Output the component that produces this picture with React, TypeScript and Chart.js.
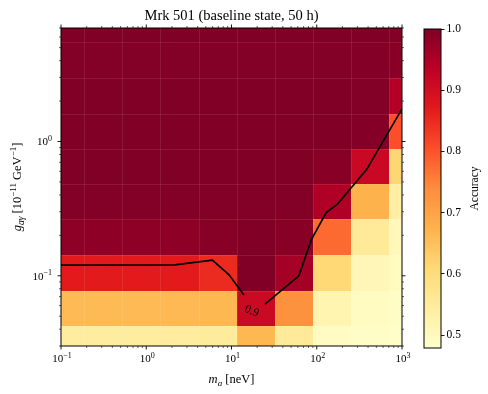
import React, { useEffect, useRef } from "react";
import { Chart, registerables } from "chart.js";

Chart.register(...registerables);

// ---------- data ----------
// mass bin edges (neV), 10 columns
const massEdges = [0.0667, 0.187, 0.524, 1.466, 4.11, 11.5, 32.3, 90.4, 253, 710, 1986];
// coupling bin edges (1e-11 GeV^-1), 10 rows
const couplingEdges = [0.0232, 0.0426, 0.0773, 0.143, 0.264, 0.48, 0.873, 1.607, 2.97, 5.46, 10.0];

// accuracy per row (bottom -> top), per mass column (left -> right)
const accRow0 = [0.545, 0.545, 0.545, 0.547, 0.55, 0.665, 0.555, 0.493, 0.487, 0.485];
const accRow1 = [0.66, 0.66, 0.66, 0.662, 0.665, 0.912, 0.73, 0.52, 0.495, 0.488];
const accRow2 = [0.87, 0.87, 0.87, 0.87, 0.85, 1.0, 0.96, 0.61, 0.51, 0.495];
const accRow3 = [0.985, 0.985, 0.985, 0.985, 0.993, 1.0, 0.99, 0.776, 0.555, 0.505];
const accRow4 = [0.997, 0.997, 0.997, 0.997, 0.997, 0.997, 0.997, 0.948, 0.675, 0.54];
const accRow5 = [1.0, 1.0, 1.0, 1.0, 1.0, 1.0, 1.0, 0.99, 0.914, 0.612];
const accRow6 = [1.0, 1.0, 1.0, 1.0, 1.0, 1.0, 1.0, 1.0, 0.995, 0.805];
const accRow7 = [1.0, 1.0, 1.0, 1.0, 1.0, 1.0, 1.0, 1.0, 0.997, 0.945];
const accRow8 = [0.997, 0.997, 0.997, 0.997, 0.997, 0.997, 0.997, 0.997, 0.995, 0.99];
const accRow9 = [1.0, 1.0, 1.0, 1.0, 1.0, 1.0, 1.0, 1.0, 1.0, 0.997];
const accuracyRows = [accRow0, accRow1, accRow2, accRow3, accRow4, accRow5, accRow6, accRow7, accRow8, accRow9];

// 0.9 contour (two pieces, split by the label)
const contourAMass = [0.1, 2.16, 5.97, 9.35, 14.0];
const contourACoupling = [0.1201, 0.1207, 0.1308, 0.1017, 0.0719];
const contourBMass = [24.7, 61.7, 86.9, 129, 174, 386, 1000];
const contourBCoupling = [0.0616, 0.1, 0.187, 0.296, 0.34, 0.62, 1.75];
const contourLevel = "0.9";
const contourLabelMass = 16.8;
const contourLabelCoupling = 0.0556;

// axes
const massMin = 0.1;
const massMax = 1000;
const couplingMin = 0.03;
const couplingMax = 7;
const xMajorTicks = [0.1, 1, 10, 100, 1000];
const yMajorTicks = [0.1, 1];
const cbMin = 0.479;
const cbMax = 1.0;
const cbTicks = [0.5, 0.6, 0.7, 0.8, 0.9, 1.0];

const titleText = "Mrk 501 (baseline state, 50 h)";
const cbLabel = "Accuracy";

// ---------- helpers ----------
const SERIF = '"Liberation Serif", "DejaVu Serif", serif';
const YLORRD = ["#ffffcc", "#ffeda0", "#fed976", "#feb24c", "#fd8d3c", "#fc4e2a", "#e31a1c", "#bd0026", "#800026"];

function hexToRgb(h: string) {
  return [parseInt(h.slice(1, 3), 16), parseInt(h.slice(3, 5), 16), parseInt(h.slice(5, 7), 16)];
}
const STOPS = YLORRD.map(hexToRgb);

function cmap(v: number) {
  let t = (v - cbMin) / (cbMax - cbMin);
  t = Math.max(0, Math.min(1, t));
  const p = t * (STOPS.length - 1);
  const i = Math.min(STOPS.length - 2, Math.floor(p));
  const f = p - i;
  const a = STOPS[i];
  const b = STOPS[i + 1];
  const c = a.map((x, k) => Math.round(x + (b[k] - x) * f));
  return `rgb(${c[0]},${c[1]},${c[2]})`;
}

type Part = { t: string; size: number; italic?: boolean; dy?: number };

function fontOf(p: Part) {
  return `${p.italic ? "italic " : ""}${p.size}px ${SERIF}`;
}

function drawRich(ctx: CanvasRenderingContext2D, parts: Part[], x: number, y: number, align: "left" | "center" | "right", rot = 0) {
  ctx.save();
  ctx.translate(x, y);
  if (rot) ctx.rotate(rot);
  ctx.textBaseline = "alphabetic";
  ctx.textAlign = "left";
  let total = 0;
  const widths = parts.map((p) => {
    ctx.font = fontOf(p);
    const w = ctx.measureText(p.t).width;
    total += w;
    return w;
  });
  let cx = align === "left" ? 0 : align === "center" ? -total / 2 : -total;
  parts.forEach((p, i) => {
    ctx.font = fontOf(p);
    ctx.fillStyle = "#000";
    ctx.fillText(p.t, cx, p.dy || 0);
    cx += widths[i];
  });
  ctx.restore();
}

function expLabel(v: number): Part[] {
  const e = Math.round(Math.log10(v));
  const s = e < 0 ? "\u2212" + Math.abs(e) : String(e);
  return [
    { t: "10", size: 11 },
    { t: s, size: 8, dy: -4.5 },
  ];
}

function minorValues(min: number, max: number) {
  const out: number[] = [];
  const e0 = Math.floor(Math.log10(min)) - 1;
  const e1 = Math.ceil(Math.log10(max)) + 1;
  for (let e = e0; e <= e1; e++) {
    for (let m = 1; m <= 9; m++) {
      const v = m * Math.pow(10, e);
      if (v >= min * 0.9999 && v <= max * 1.0001) out.push(v);
    }
  }
  return out;
}

const isPow10 = (v: number) => Math.abs(Math.log10(v) - Math.round(Math.log10(v))) < 1e-6;

// ---------- main chart plugin ----------
const heatmapPlugin = {
  id: "heatmap",
  beforeDatasetsDraw(chart: any) {
    const { ctx, chartArea: ca, scales } = chart;
    const xs = scales.x;
    const ys = scales.y;
    ctx.save();
    ctx.beginPath();
    ctx.rect(ca.left, ca.top, ca.right - ca.left, ca.bottom - ca.top);
    ctx.clip();
    for (let r = 0; r < accuracyRows.length; r++) {
      const yTop = Math.round(ys.getPixelForValue(couplingEdges[r + 1]));
      const yBot = Math.round(ys.getPixelForValue(couplingEdges[r]));
      for (let c = 0; c < accuracyRows[r].length; c++) {
        const x0 = Math.round(xs.getPixelForValue(massEdges[c]));
        const x1 = Math.round(xs.getPixelForValue(massEdges[c + 1]));
        ctx.fillStyle = cmap(accuracyRows[r][c]);
        ctx.fillRect(x0, yTop, x1 - x0, yBot - yTop);
      }
    }
    // faint cell edges
    ctx.strokeStyle = "rgba(255,255,255,0.09)";
    ctx.lineWidth = 1;
    ctx.beginPath();
    massEdges.forEach((m) => {
      const px = Math.round(xs.getPixelForValue(m)) + 0.5;
      ctx.moveTo(px, ca.top);
      ctx.lineTo(px, ca.bottom);
    });
    couplingEdges.forEach((g) => {
      const py = Math.round(ys.getPixelForValue(g)) + 0.5;
      ctx.moveTo(ca.left, py);
      ctx.lineTo(ca.right, py);
    });
    ctx.stroke();
    ctx.restore();
  },
  afterDraw(chart: any) {
    const { ctx, chartArea: ca, scales } = chart;
    const xs = scales.x;
    const ys = scales.y;
    ctx.save();
    // frame
    ctx.strokeStyle = "#000";
    ctx.lineWidth = 1;
    ctx.strokeRect(ca.left, ca.top, ca.right - ca.left, ca.bottom - ca.top);

    // ticks on all four sides (outward)
    const xv = minorValues(massMin, massMax);
    xv.forEach((v) => {
      const px = xs.getPixelForValue(v);
      const major = isPow10(v);
      const len = major ? 3.5 : 2;
      ctx.lineWidth = major ? 0.9 : 0.6;
      ctx.beginPath();
      ctx.moveTo(px, ca.bottom);
      ctx.lineTo(px, ca.bottom + len);
      ctx.moveTo(px, ca.top);
      ctx.lineTo(px, ca.top - len);
      ctx.stroke();
    });
    const yv = minorValues(couplingMin, couplingMax);
    yv.forEach((v) => {
      const py = ys.getPixelForValue(v);
      const major = isPow10(v);
      const len = major ? 3.5 : 2;
      ctx.lineWidth = major ? 0.9 : 0.6;
      ctx.beginPath();
      ctx.moveTo(ca.left, py);
      ctx.lineTo(ca.left - len, py);
      ctx.moveTo(ca.right, py);
      ctx.lineTo(ca.right + len, py);
      ctx.stroke();
    });

    // tick labels
    xMajorTicks.forEach((v) => {
      drawRich(ctx, expLabel(v), xs.getPixelForValue(v) + 1, ca.bottom + 16, "center");
    });
    yMajorTicks.forEach((v) => {
      drawRich(ctx, expLabel(v), ca.left - 9, ys.getPixelForValue(v) + 4, "right");
    });

    // title
    drawRich(ctx, [{ t: titleText, size: 14.5 }], (ca.left + ca.right) / 2, 20, "center");

    // x label
    drawRich(
      ctx,
      [
        { t: "m", size: 12.5, italic: true },
        { t: "a", size: 9, italic: true, dy: 2.5 },
        { t: " [neV]", size: 12.5 },
      ],
      (ca.left + ca.right) / 2,
      383,
      "center"
    );

    // y label
    drawRich(
      ctx,
      [
        { t: "g", size: 12.5, italic: true },
        { t: "a\u03b3", size: 9.5, italic: true, dy: 2.5 },
        { t: " [10", size: 12.5 },
        { t: "\u221211", size: 9, dy: -5 },
        { t: " GeV", size: 12.5 },
        { t: "\u22121", size: 9, dy: -5 },
        { t: "]", size: 12.5 },
      ],
      21,
      (ca.top + ca.bottom) / 2,
      "center",
      -Math.PI / 2
    );

    // contour label
    drawRich(
      ctx,
      [{ t: contourLevel, size: 11.5 }],
      xs.getPixelForValue(contourLabelMass),
      ys.getPixelForValue(contourLabelCoupling) + 4,
      "center",
      0.38
    );
    ctx.restore();
  },
};

// ---------- colorbar plugin ----------
const colorbarPlugin = {
  id: "colorbar",
  beforeDatasetsDraw(chart: any) {
    const { ctx, chartArea: ca, scales } = chart;
    const ys = scales.y;
    ctx.save();
    for (let py = Math.floor(ca.top); py < Math.ceil(ca.bottom); py++) {
      const v = ys.getValueForPixel(py + 0.5);
      ctx.fillStyle = cmap(v);
      const t = Math.max(py, ca.top);
      const b = Math.min(py + 1, ca.bottom);
      ctx.fillRect(ca.left, t, ca.right - ca.left, b - t);
    }
    ctx.strokeStyle = "#000";
    ctx.lineWidth = 1;
    ctx.strokeRect(ca.left, ca.top, ca.right - ca.left, ca.bottom - ca.top);
    ctx.restore();
  },
  afterDraw(chart: any) {
    const { ctx, chartArea: ca } = chart;
    drawRich(ctx, [{ t: cbLabel, size: 11.5 }], 68, (ca.top + ca.bottom) / 2, "center", -Math.PI / 2);
  },
};

export default function App() {
  const mainRef = useRef<HTMLCanvasElement | null>(null);
  const cbRef = useRef<HTMLCanvasElement | null>(null);

  useEffect(() => {
    if (!mainRef.current || !cbRef.current) return;
    const segA = contourAMass.map((m, i) => ({ x: m, y: contourACoupling[i] }));
    const segB = contourBMass.map((m, i) => ({ x: m, y: contourBCoupling[i] }));

    const main = new Chart(mainRef.current, {
      type: "scatter",
      data: {
        datasets: [
          { data: segA, showLine: true, borderColor: "#000", borderWidth: 1.7, pointRadius: 0, fill: false },
          { data: segB, showLine: true, borderColor: "#000", borderWidth: 1.7, pointRadius: 0, fill: false },
        ],
      },
      options: {
        animation: false,
        responsive: false,
        maintainAspectRatio: false,
        events: [],
        layout: { padding: { left: 0, top: 28, right: 86, bottom: 0 } },
        plugins: { legend: { display: false }, tooltip: { enabled: false }, title: { display: false } },
        scales: {
          x: {
            type: "logarithmic",
            min: massMin,
            max: massMax,
            grid: { display: false },
            border: { display: false },
            ticks: { display: false },
            afterFit: (s: any) => {
              s.height = 48;
            },
          },
          y: {
            type: "logarithmic",
            min: couplingMin,
            max: couplingMax,
            grid: { display: false },
            border: { display: false },
            ticks: { display: false },
            afterFit: (s: any) => {
              s.width = 61;
            },
          },
        },
      } as any,
      plugins: [heatmapPlugin],
    });

    const cb = new Chart(cbRef.current, {
      type: "scatter",
      data: { datasets: [] },
      options: {
        animation: false,
        responsive: false,
        maintainAspectRatio: false,
        events: [],
        layout: { padding: { left: 14, top: 29, right: 0, bottom: 46 } },
        plugins: { legend: { display: false }, tooltip: { enabled: false } },
        scales: {
          x: { display: false, min: 0, max: 1 },
          y: {
            position: "right",
            min: cbMin,
            max: cbMax,
            afterBuildTicks: (s: any) => {
              s.ticks = cbTicks.map((v) => ({ value: v }));
            },
            ticks: {
              includeBounds: false,
              color: "#000",
              padding: 2,
              font: { family: SERIF, size: 11.5 },
              callback: (v: any) => Number(v).toFixed(1),
            },
            grid: { drawOnChartArea: false, drawTicks: true, tickLength: 3.5, color: "#000", lineWidth: 0.9 },
            border: { display: false },
            afterFit: (s: any) => {
              s.width = 47;
            },
          },
        },
      } as any,
      plugins: [colorbarPlugin],
    });

    return () => {
      main.destroy();
      cb.destroy();
    };
  }, []);

  return (
    <div style={{ position: "fixed", left: 0, top: 0, width: 488, height: 394, background: "#fff" }}>
      <canvas ref={mainRef} width={488} height={394} style={{ position: "absolute", left: 0, top: 0 }} />
      <canvas ref={cbRef} width={78} height={394} style={{ position: "absolute", left: 410, top: 0 }} />
    </div>
  );
}
